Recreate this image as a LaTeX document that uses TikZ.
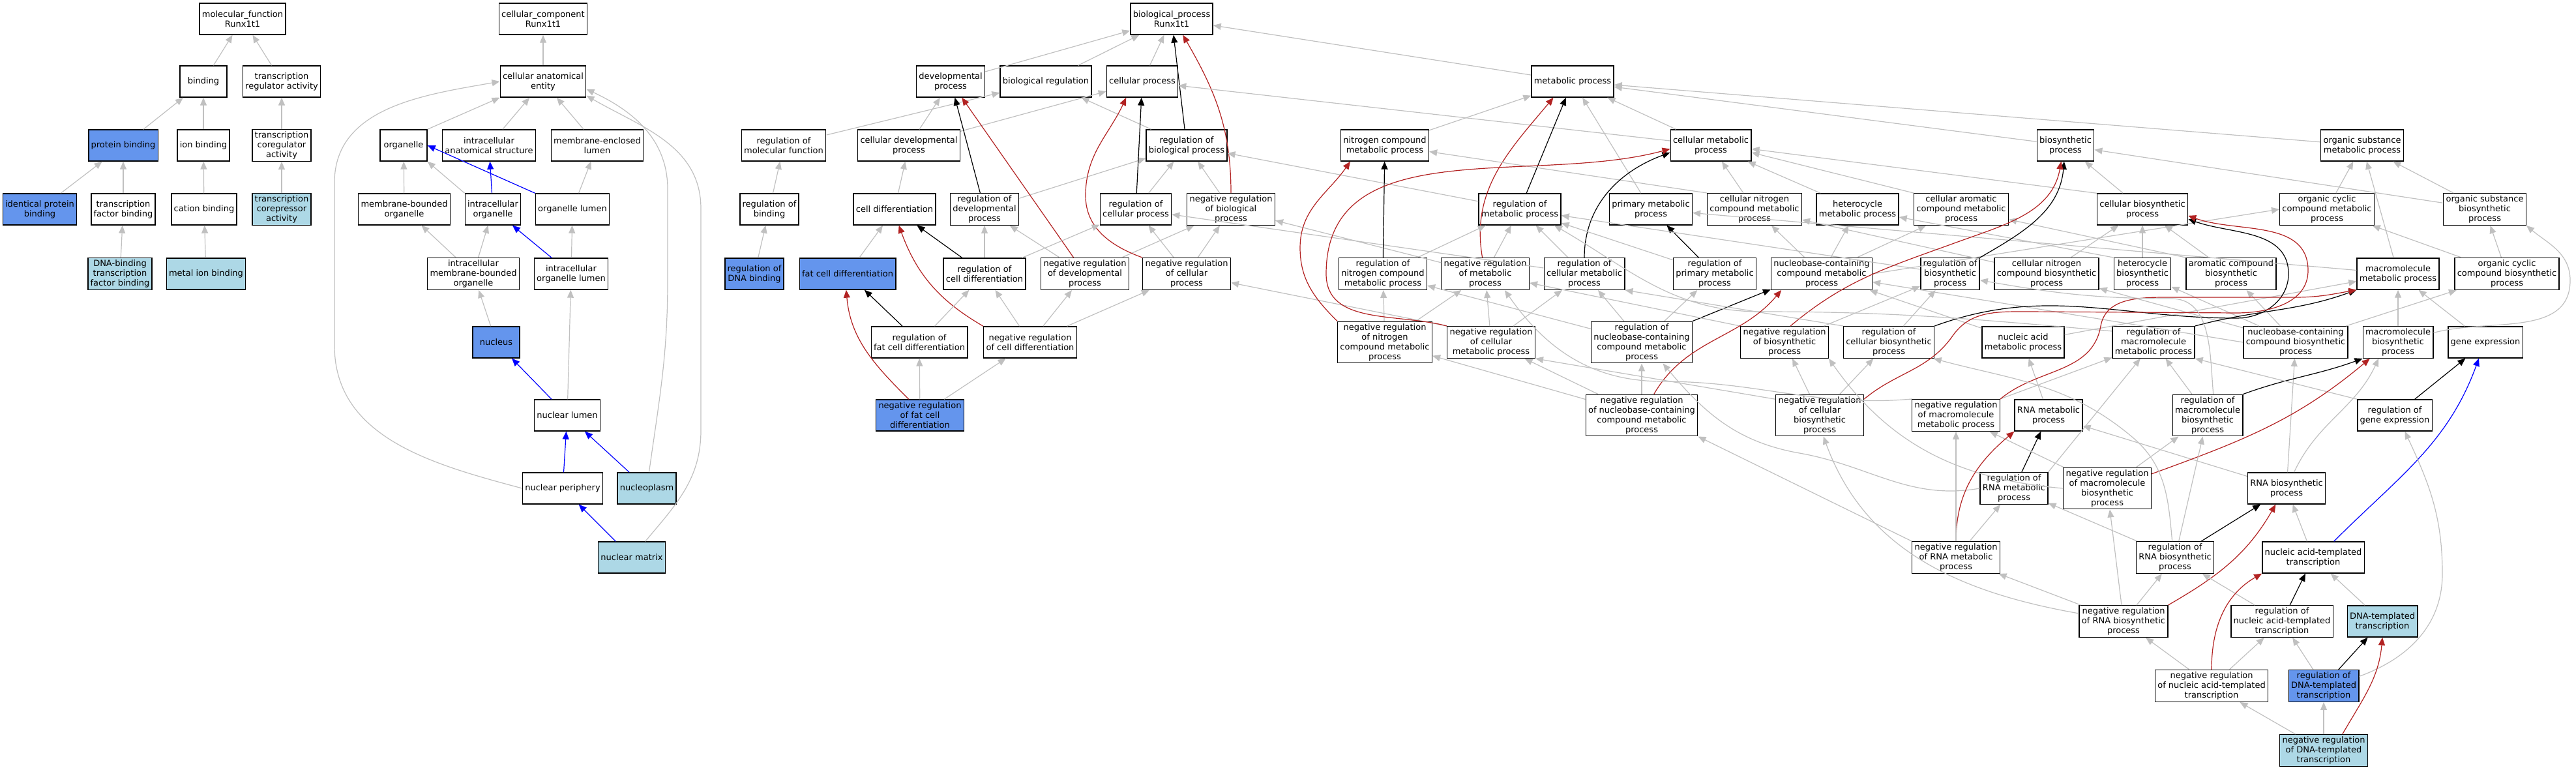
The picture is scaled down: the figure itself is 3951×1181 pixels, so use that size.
\documentclass[tikz,border=0pt]{standalone}
\usepackage{fontspec}
\setmainfont{DejaVu Sans}
\usetikzlibrary{arrows.meta}
\definecolor{hitblue}{HTML}{6495ED}
\definecolor{nearblue}{HTML}{ADD8E6}
\definecolor{edgegray}{HTML}{C0C0C0}
\definecolor{negred}{HTML}{B22222}
\definecolor{partblue}{HTML}{0000FF}
\newcommand{\gofont}{\fontsize{6.5pt}{7.5pt}\selectfont}
\begin{document}
\begin{tikzpicture}[x=.5pt, y=-.5pt,
  every node/.style={font=\gofont, draw=black, fill=white, rectangle, align=center, line width=.7pt,
    inner xsep=1.9pt, inner ysep=1.5pt, minimum width=36pt, minimum height=24pt},
  hit/.style={fill=hitblue},
  near/.style={fill=nearblue},
  isa/.style={draw=edgegray, line width=.6pt, -{Triangle[length=6pt,width=5pt]}},
  reg/.style={isa, draw=black},
  neg/.style={isa, draw=negred},
  part/.style={isa, draw=partblue}]
\useasboundingbox (0,0) rectangle (3951,1181);
\node (mf) at (372,29) {molecular\_function\\Runx1t1};
\node (binding) at (312,125) {binding};
\node (trreg) at (432,125) {transcription\\regulator activity};
\node[hit] (protbind) at (189,223) {protein binding};
\node (ionbind) at (312,223) {ion binding};
\node (coreg) at (432,223) {transcription\\coregulator\\activity};
\node[hit] (identbind) at (61,321) {identical protein\\binding};
\node (tfbind) at (189,321) {transcription\\factor binding};
\node (catbind) at (313,321) {cation binding};
\node[near] (corep) at (432,321) {transcription\\corepressor\\activity};
\node[near] (dnatf) at (184,420) {DNA-binding\\transcription\\factor binding};
\node[near] (metalbind) at (316,420) {metal ion binding};
\node (cc) at (833,29) {cellular\_component\\Runx1t1};
\node (entity) at (833,125) {cellular anatomical\\entity};
\node (organelle) at (619,223) {organelle};
\node (ias) at (750,223) {intracellular\\anatomical structure};
\node (mel) at (916,223) {membrane-enclosed\\lumen};
\node (mbo) at (620,321) {membrane-bounded\\organelle};
\node (io) at (756,321) {intracellular\\organelle};
\node (olumen) at (878,321) {organelle lumen};
\node (imbo) at (726,420) {intracellular\\membrane-bounded\\organelle};
\node (iolumen) at (876,420) {intracellular\\organelle lumen};
\node[hit] (nucleus) at (761,525) {nucleus};
\node (nlumen) at (870,637) {nuclear lumen};
\node (nperiph) at (863,749) {nuclear periphery};
\node[near] (nplasm) at (992,749) {nucleoplasm};
\node[near] (nmatrix) at (969,855) {nuclear matrix};
\node (bp) at (1797,29) {biological\_process\\Runx1t1};
\node (devproc) at (1458,125) {developmental\\process};
\node (bioreg) at (1604,125) {biological regulation};
\node (cellproc) at (1752,125) {cellular process};
\node (metproc) at (2412,125) {metabolic process};
\node (regmf) at (1202,223) {regulation of\\molecular function};
\node (celldev) at (1394,223) {cellular developmental\\process};
\node (regbp) at (1820,223) {regulation of\\biological process};
\node (ncmp) at (2124,223) {nitrogen compound\\metabolic process};
\node (cmp) at (2624,223) {cellular metabolic\\process};
\node (biosyn) at (3168,223) {biosynthetic\\process};
\node (osmp) at (3623,223) {organic substance\\metabolic process};
\node (regbind) at (1180,321) {regulation of\\binding};
\node (celldiff) at (1372,321) {cell differentiation};
\node (regdev) at (1510,321) {regulation of\\developmental\\process};
\node (regcp) at (1742,321) {regulation of\\cellular process};
\node (negbp) at (1888,321) {negative regulation\\of biological\\process};
\node (regmp) at (2331,321) {regulation of\\metabolic process};
\node (pmp) at (2532,321) {primary metabolic\\process};
\node (cncmp) at (2691,321) {cellular nitrogen\\compound metabolic\\process};
\node (hetmp) at (2849,321) {heterocycle\\metabolic process};
\node (camp) at (3008,321) {cellular aromatic\\compound metabolic\\process};
\node (cbp) at (3286,321) {cellular biosynthetic\\process};
\node (occmp) at (3569,321) {organic cyclic\\compound metabolic\\process};
\node (osbp) at (3811,321) {organic substance\\biosynthetic\\process};
\node[hit] (regdna) at (1157,420) {regulation of\\DNA binding};
\node[hit] (fatdiff) at (1300,420) {fat cell differentiation};
\node (regcd) at (1510,420) {regulation of\\cell differentiation};
\node (negdev) at (1664,420) {negative regulation\\of developmental\\process};
\node (negcp) at (1820,420) {negative regulation\\of cellular\\process};
\node (regncmp) at (2121,420) {regulation of\\nitrogen compound\\metabolic process};
\node (negmp) at (2278,420) {negative regulation\\of metabolic\\process};
\node (regcmp) at (2430,420) {regulation of\\cellular metabolic\\process};
\node (regpmp) at (2630,420) {regulation of\\primary metabolic\\process};
\node (nccmp) at (2794,420) {nucleobase-containing\\compound metabolic\\process};
\node (regbio) at (2991,420) {regulation of\\biosynthetic\\process};
\node (cncbp) at (3139,420) {cellular nitrogen\\compound biosynthetic\\process};
\node (hetbp) at (3286,420) {heterocycle\\biosynthetic\\process};
\node (arobp) at (3422,420) {aromatic compound\\biosynthetic\\process};
\node (mmp) at (3678,420) {macromolecule\\metabolic process};
\node (occbp) at (3845,420) {organic cyclic\\compound biosynthetic\\process};
\node (regfat) at (1410,525) {regulation of\\fat cell differentiation};
\node (negcd) at (1580,525) {negative regulation\\of cell differentiation};
\node (negncmp) at (2124,525) {negative regulation\\of nitrogen\\compound metabolic\\process};
\node (negcmp) at (2287,525) {negative regulation\\of cellular\\metabolic process};
\node (regnccmp) at (2518,525) {regulation of\\nucleobase-containing\\compound metabolic\\process};
\node (negbio) at (2737,525) {negative regulation\\of biosynthetic\\process};
\node (regcbp) at (2897,525) {regulation of\\cellular biosynthetic\\process};
\node (nametab) at (3103,525) {nucleic acid\\metabolic process};
\node (regmmp) at (3303,525) {regulation of\\macromolecule\\metabolic process};
\node (nccbp) at (3521,525) {nucleobase-containing\\compound biosynthetic\\process};
\node (mbp) at (3678,525) {macromolecule\\biosynthetic\\process};
\node (geneexp) at (3812,525) {gene expression};
\node[hit] (negfat) at (1411,637) {negative regulation\\of fat cell\\differentiation};
\node (negnccmp) at (2518,637) {negative regulation\\of nucleobase-containing\\compound metabolic\\process};
\node (negcbp) at (2791,637) {negative regulation\\of cellular\\biosynthetic\\process};
\node (negmmp) at (3000,637) {negative regulation\\of macromolecule\\metabolic process};
\node (rnamp) at (3142,637) {RNA metabolic\\process};
\node (regmbp) at (3386,637) {regulation of\\macromolecule\\biosynthetic\\process};
\node (regge) at (3673,637) {regulation of\\gene expression};
\node (regrnamp) at (3089,749) {regulation of\\RNA metabolic\\process};
\node (negmbp) at (3232,749) {negative regulation\\of macromolecule\\biosynthetic\\process};
\node (rnabp) at (3507,749) {RNA biosynthetic\\process};
\node (negrnamp) at (3000,855) {negative regulation\\of RNA metabolic\\process};
\node (regrnabp) at (3336,855) {regulation of\\RNA biosynthetic\\process};
\node (natt) at (3548,855) {nucleic acid-templated\\transcription};
\node (negrnabp) at (3257,953) {negative regulation\\of RNA biosynthetic\\process};
\node (regnatt) at (3500,953) {regulation of\\nucleic acid-templated\\transcription};
\node[near] (dnatt) at (3654,953) {DNA-templated\\transcription};
\node (negnatt) at (3392,1052) {negative regulation\\of nucleic acid-templated\\transcription};
\node[hit] (regdnatt) at (3564,1052) {regulation of\\DNA-templated\\transcription};
\node[near] (negdnatt) at (3564,1151) {negative regulation\\of DNA-templated\\transcription};
\path[isa] (binding) -- (mf);
\path[isa] (trreg) -- (mf);
\path[isa] (protbind) -- (binding);
\path[isa] (ionbind) -- (binding);
\path[isa] (coreg) -- (trreg);
\path[isa] (identbind) -- (protbind);
\path[isa] (tfbind) -- (protbind);
\path[isa] (catbind) -- (ionbind);
\path[isa] (corep) -- (coreg);
\path[isa] (dnatf) -- (tfbind);
\path[isa] (metalbind) -- (catbind);
\path[isa] (entity) -- (cc);
\path[isa] (organelle.north east) -- (entity.south west);
\path[isa] (ias) -- (entity);
\path[isa] (mel) -- (entity);
\path[isa] (mbo) -- (organelle);
\path[isa] (io.north west) -- (organelle.south east);
\path[part] (io) -- (ias);
\path[part] (olumen.north west) -- (organelle.east);
\path[isa] (olumen) -- (mel);
\path[isa] (imbo) -- (mbo);
\path[isa] (imbo) -- (io);
\path[part] (iolumen) -- (io);
\path[isa] (iolumen) -- (olumen);
\path[isa] (nucleus) -- (imbo);
\path[part] (nlumen) -- (nucleus);
\path[isa] (nlumen) -- (iolumen);
\path[part] (nperiph) -- (nlumen);
\path[part] (nplasm) -- (nlumen);
\path[part] (nmatrix) -- (nperiph);
\path[isa] (nperiph.west) to[out=165,in=270] (513,530) -- (513,280) to[out=90,in=190] (entity.west);
\path[isa] (nplasm) to[out=82,in=270] (1024,430) -- (1024,290) to[out=90,in=-25] (entity.-10);
\path[isa] (nmatrix) to[out=50,in=270] (1075,660) -- (1075,320) to[out=90,in=-30] (entity.-18);
\path[isa] (devproc) -- (bp);
\path[isa] (bioreg) -- (bp);
\path[isa] (cellproc) -- (bp);
\path[isa] (metproc) -- (bp);
\path[reg] (regbp) -- (bp);
\path[neg] (negbp) to[out=90,in=-60] (bp.-55);
\path[isa] (celldev) -- (devproc);
\path[isa] (celldev) -- (cellproc);
\path[isa] (regmf) -- (bioreg);
\path[isa] (regbp) -- (bioreg);
\path[isa] (cmp) -- (cellproc);
\path[isa] (regbind) -- (regmf);
\path[isa] (regdna) -- (regbind);
\path[isa] (celldiff) -- (celldev);
\path[reg] (regdev) -- (devproc);
\path[isa] (regdev) -- (regbp);
\path[neg] (negdev) -- (devproc);
\path[isa] (negdev) -- (regdev);
\path[isa] (negdev) -- (negbp);
\path[reg] (regcp) -- (cellproc);
\path[isa] (regcp) -- (regbp);
\path[isa] (negbp) -- (regbp);
\path[neg] (negcp.north west) to[out=160,in=270] (1665,300) to[out=90,in=-115] (cellproc.-135);
\path[isa] (negcp) -- (regcp);
\path[isa] (negcp) -- (negbp);
\path[isa] (regmp) -- (regbp);
\path[isa] (fatdiff) -- (celldiff);
\path[reg] (regcd) -- (celldiff);
\path[isa] (regcd) -- (regdev);
\path[isa] (regcd) -- (regcp);
\path[neg] (negcd.north west) to[out=150,in=-70] (celldiff.-75);
\path[isa] (negcd) -- (regcd);
\path[isa] (negcd) -- (negdev);
\path[isa] (negcd) -- (negcp);
\path[reg] (regfat) -- (fatdiff);
\path[isa] (regfat) -- (regcd);
\path[neg] (negfat.125) to[out=135,in=-85] (fatdiff.-95);
\path[isa] (negfat) -- (regfat);
\path[isa] (negfat) -- (negcd);
\path[isa] (regcmp) -- (regcp);
\path[isa] (negmp) -- (negbp);
\path[isa] (negcmp.north west) -- (negcp);
\path[isa] (ncmp) -- (metproc);
\path[isa] (cmp) -- (metproc);
\path[isa] (pmp) -- (metproc);
\path[isa] (osmp) -- (metproc);
\path[isa] (biosyn) -- (metproc);
\path[reg] (regmp) -- (metproc);
\path[neg] (negmp) to[out=100,in=-130] (metproc.-140);
\path[isa] (cncmp.north west) -- (ncmp.-8);
\path[isa] (cncmp) -- (cmp);
\path[isa] (hetmp) -- (cmp);
\path[isa] (camp.north west) -- (cmp.-10);
\path[isa] (cbp.north west) -- (cmp.-5);
\path[isa] (cbp) -- (biosyn);
\path[isa] (osbp) -- (biosyn);
\path[isa] (osbp) -- (osmp);
\path[isa] (occmp) -- (osmp);
\path[isa] (mmp) -- (osmp);
\path[isa] (mmp) -- (pmp);
\path[isa] (nccmp) -- (cncmp);
\path[isa] (nccmp) -- (hetmp);
\path[isa] (nccmp) -- (camp);
\path[isa] (nccmp.east) -- (occmp.west);
\path[isa] (cncbp) -- (cncmp);
\path[isa] (cncbp) -- (cbp);
\path[isa] (hetbp.north west) -- (hetmp);
\path[isa] (hetbp) -- (cbp);
\path[isa] (arobp.north west) -- (camp);
\path[isa] (arobp) -- (cbp);
\path[isa] (occbp) -- (occmp);
\path[isa] (occbp) -- (osbp);
\path[isa] (nametab) -- (nccmp);
\path[isa] (nametab) -- (mmp);
\path[isa] (nccbp.west) -- (nccmp);
\path[isa] (nccbp) -- (cncbp);
\path[isa] (nccbp) -- (hetbp);
\path[isa] (nccbp) -- (arobp);
\path[isa] (nccbp) -- (occbp);
\path[isa] (mbp) -- (mmp);
\path[isa] (mbp) to[out=15,in=270] (3942,430) to[out=90,in=-40] (osbp.south east);
\path[isa] (geneexp) -- (mmp);
\path[isa] (rnamp) -- (nametab);
\path[isa] (rnabp) -- (rnamp);
\path[isa] (rnabp) -- (nccbp);
\path[isa] (rnabp) to[out=65,in=-115] (mbp.-140);
\path[isa] (natt) -- (rnabp);
\path[part] (natt.38) to[out=45,in=-110] (geneexp.-112);
\path[isa] (dnatt) -- (natt);
\path[reg] (regncmp) -- (ncmp);
\path[isa] (regncmp) -- (regmp);
\path[isa] (negmp) -- (regmp);
\path[reg] (regcmp) to[out=90,in=200] (cmp.-170);
\path[isa] (regcmp) -- (regmp);
\path[reg] (regpmp) -- (pmp);
\path[isa] (regpmp) -- (regmp);
\path[reg] (regbio.north east) to[out=30,in=-95] (biosyn.-95);
\path[isa] (regbio) -- (regmp);
\path[neg] (negncmp.north west) to[out=135,in=270] (1994,380) to[out=90,in=-125] (ncmp.-155);
\path[isa] (negncmp) -- (regncmp);
\path[isa] (negncmp) -- (negmp);
\path[neg] (negcmp.north west) to[out=165,in=-90] (2034,420) to[out=90,in=195] (cmp.-175);
\path[isa] (negcmp) -- (negmp);
\path[isa] (negcmp) -- (regcmp);
\path[reg] (regnccmp.north east) -- (nccmp.-163);
\path[isa] (regnccmp) -- (regcmp);
\path[isa] (regnccmp) -- (regncmp);
\path[isa] (regnccmp) -- (regpmp);
\path[neg] (negbio.70) to[out=40,in=200] (3000,372) to[out=20,in=-100] (biosyn.-105);
\path[isa] (negbio) -- (regbio);
\path[isa] (negbio.north west) -- (negmp);
\path[reg] (regcbp.north east) to[out=20,in=180] (3430,488) to[out=0,in=270] (3510,420) to[out=90,in=-20] (cbp.-12);
\path[isa] (regcbp) -- (regbio);
\path[isa] (regcbp.north west) -- (regcmp.south east);
\path[isa] (regmmp.165) to[out=175,in=0] (2700,478) to[out=180,in=-30] (regmp.-25);
\path[reg] (regmmp.north east) to[out=15,in=200] (mmp.south west);
\path[neg] (negnccmp) to[out=60,in=-130] (nccmp.-158);
\path[isa] (negnccmp) -- (regnccmp);
\path[isa] (negnccmp) -- (negcmp);
\path[isa] (negnccmp) -- (negncmp);
\path[neg] (negcbp.20) to[out=40,in=235] (2995,515) to[out=55,in=180] (3110,478) -- (3430,480) to[out=0,in=270] (3540,415) to[out=90,in=-20] (cbp.-8);
\path[isa] (negcbp) -- (regcbp);
\path[isa] (negcbp) -- (negbio);
\path[isa] (negcbp.160) -- (negcmp.south east);
\path[isa] (negmmp.north west) to[out=185,in=0] (2550,585) to[out=180,in=-55] (negmp.-40);
\path[isa] (negmmp) -- (regmmp);
\path[neg] (negmmp.north east) to[out=40,in=-100] (3222,500) to[out=80,in=180] (3330,456) -- (3520,456) to[out=0,in=190] (mmp.south west);
\path[reg] (regmbp.north east) to[out=20,in=200] (mbp.south west);
\path[isa] (regmbp.75) to[out=95,in=0] (3330,458) to[out=180,in=-10] (regbio.-12);
\path[isa] (regmbp) -- (regmmp);
\path[reg] (regge) -- (geneexp);
\path[isa] (regge.north west) -- (regmmp.south east);
\path[reg] (regrnamp) -- (rnamp);
\path[isa] (regrnamp.west) to[out=190,in=-10] (2760,695) to[out=170,in=-50] (regnccmp.-45);
\path[isa] (regrnamp.north east) -- (regmmp);
\path[neg] (negmbp.18) to[out=20,in=-140] (mbp.-150);
\path[isa] (negmbp) -- (regmbp);
\path[isa] (negmbp) -- (negmmp);
\path[isa] (negmbp.west) to[out=175,in=-55] (negbio.south east);
\path[neg] (negrnamp) to[out=90,in=220] (rnamp.south west);
\path[isa] (negrnamp) -- (regrnamp);
\path[isa] (negrnamp) -- (negmmp);
\path[isa] (negrnamp.north west) -- (negnccmp.south east);
\path[reg] (regrnabp) -- (rnabp);
\path[isa] (regrnabp) -- (regrnamp);
\path[isa] (regrnabp) -- (regmbp);
\path[isa] (regrnabp.100) to[out=95,in=-40] (3270,670) to[out=140,in=-15] (regcbp.-20);
\path[neg] (negrnabp.north east) to[out=30,in=-120] (rnabp.-124);
\path[isa] (negrnabp) -- (regrnabp);
\path[isa] (negrnabp) -- (negrnamp);
\path[isa] (negrnabp) -- (negmbp);
\path[isa] (negrnabp.170) to[out=170,in=-70] (negcbp.-80);
\path[reg] (regnatt) -- (natt);
\path[isa] (regnatt) -- (regrnabp);
\path[neg] (negnatt) to[out=90,in=210] (natt.south west);
\path[isa] (negnatt) -- (regnatt);
\path[isa] (negnatt) -- (negrnabp);
\path[reg] (regdnatt) -- (dnatt);
\path[isa] (regdnatt) -- (regnatt);
\path[isa] (regdnatt.15) to[out=20,in=270] (3746,880) to[out=90,in=-65] (regge.-58);
\path[neg] (negdnatt.41) to[out=60,in=-95] (dnatt.south);
\path[isa] (negdnatt) -- (regdnatt);
\path[isa] (negdnatt) -- (negnatt);
\end{tikzpicture}
\end{document}
